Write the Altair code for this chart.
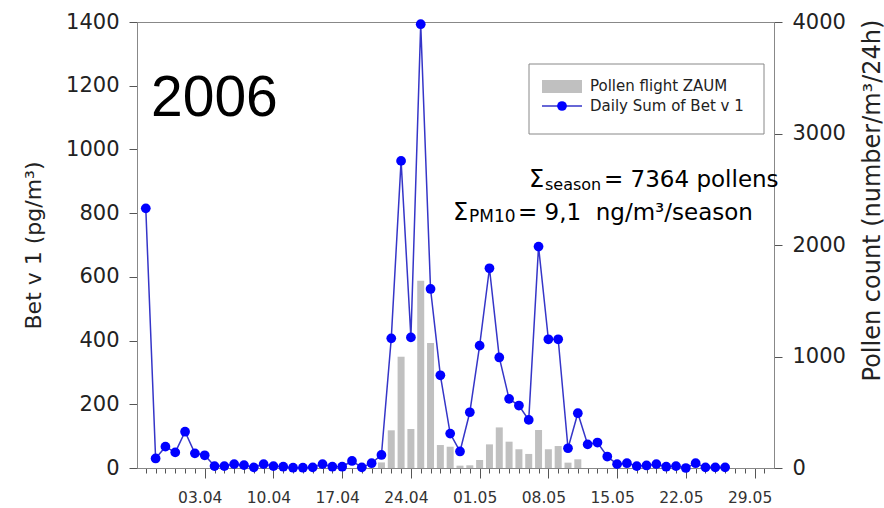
import altair as alt
import pandas as pd

# ---- data ----
line_start = "2006-03-28"
bet_v1 = [815, 30, 67, 49, 114, 46, 40, 6, 6, 12, 9, 2, 12, 6, 4, 1, 1, 2, 12, 4,
          4, 22, 2, 15, 41, 407, 964, 410, 1393, 562, 291, 108, 52, 175, 384, 627,
          347, 217, 196, 151, 695, 404, 404, 62, 172, 74, 80, 36, 12, 15, 6, 8, 12,
          4, 6, 0, 15, 2, 2, 2]

bar_start = "2006-04-21"
pollen = [50, 338, 998, 350, 1680, 1121, 206, 191, 21, 24, 72, 212, 364, 236,
          168, 126, 341, 168, 197, 48, 78]

left_ticks = [0, 200, 400, 600, 800, 1000, 1200, 1400]
right_ticks = [0, 1000, 2000, 3000, 4000]
tick_first = "2006-03-28"
tick_last = "2006-05-30"

line_dates = pd.date_range(line_start, periods=len(bet_v1), freq="D").strftime("%Y-%m-%d")
bar_dates = pd.date_range(bar_start, periods=len(pollen), freq="D").strftime("%Y-%m-%d")
line_df = pd.DataFrame({"date": line_dates, "bet": bet_v1})
bar_df = pd.DataFrame({"date": bar_dates, "pollen": pollen})

tick_days = pd.date_range(tick_first, tick_last, freq="D")
tick_vals = [alt.DateTime(year=d.year, month=d.month, date=d.day, utc=True) for d in tick_days]

W, H = 637, 446
FONT = "DejaVu Sans"

x_scale = alt.Scale(
    type="utc",
    domain=[alt.DateTime(year=2006, month=3, date=27, hours=14, minutes=44, utc=True),
            alt.DateTime(year=2006, month=5, date=30, hours=11, minutes=17, utc=True)],
)
x_axis = alt.Axis(
    values=tick_vals,
    labelExpr="utcday(datum.value) == 1 ? utcFormat(datum.value, '%d.%m') : ''",
    tickSize={"condition": {"test": "utcday(datum.value) == 1", "value": 10}, "value": 5},
    labelOverlap=False, labelFlush=False, labelBound=False,
    labelFont=FONT, labelFontSize=15.5, labelColor="#333", labelPadding=12, labelOffset=-5,
    tickColor="#555", domainColor="#888", grid=False, title=None,
)
x_enc = alt.X("date:T", scale=x_scale, axis=x_axis)

bars = alt.Chart(bar_df).mark_bar(color="#c0c0c0", size=7).encode(
    x=x_enc,
    y=alt.Y("pollen:Q", scale=alt.Scale(domain=[0, 4000], nice=False),
            axis=alt.Axis(orient="right", values=right_ticks, format="d",
                          title="Pollen count (number/m³/24h)",
                          titleFont=FONT, titleFontSize=24, titleFontWeight="normal",
                          titleColor="#222", titleAngle=270, titleAlign="center",
                          titleBaseline="middle", titleX=98, titleY=178,
                          labelFont=FONT, labelFontSize=21, labelColor="#222",
                          labelPadding=10, tickSize=8, tickColor="#555",
                          domainColor="#888", grid=False)),
)

y_left = alt.Y("bet:Q", scale=alt.Scale(domain=[0, 1400], nice=False),
               axis=alt.Axis(orient="left", values=left_ticks, format="d",
                             title="Bet v 1 (pg/m³)",
                             titleFont=FONT, titleFontSize=22, titleFontWeight="normal",
                             titleColor="#222", titleAngle=270, titleAlign="center",
                             titleBaseline="middle", titleX=-104, titleY=223,
                             labelFont=FONT, labelFontSize=21, labelColor="#222",
                             labelPadding=10, tickSize=8, tickColor="#555",
                             domainColor="#888", grid=False))

line = alt.Chart(line_df).mark_line(color="#3535c8", strokeWidth=1.5).encode(x=x_enc, y=y_left)
pts = alt.Chart(line_df).mark_point(filled=True, size=95, color="#0000ff", opacity=1).encode(x=x_enc, y=y_left)
line_layer = alt.layer(line, pts)


def label(text, x, y, size, font=FONT, color="#000", align="left", baseline="alphabetic"):
    return alt.Chart(pd.DataFrame({"t": [text]})).mark_text(
        text=text, font=font, fontSize=size, color=color, align=align, baseline=baseline
    ).encode(x=alt.value(x), y=alt.value(y))


one = pd.DataFrame({"k": [0]})
legend_box = alt.Chart(one).mark_rect(fill="white", stroke="#888", strokeWidth=1).encode(
    x=alt.value(392), x2=alt.value(627), y=alt.value(42), y2=alt.value(112))
legend_bar = alt.Chart(one).mark_rect(fill="#c0c0c0").encode(
    x=alt.value(405), x2=alt.value(445), y=alt.value(58), y2=alt.value(71))
legend_line = alt.Chart(one).mark_rule(color="#3535c8", strokeWidth=1.5).encode(
    x=alt.value(405), x2=alt.value(445), y=alt.value(84))
legend_dot = alt.Chart(one).mark_point(filled=True, size=95, color="#0000ff", opacity=1).encode(
    x=alt.value(425), y=alt.value(84))

annotations = [
    legend_box, legend_bar, legend_line, legend_dot,
    label("Pollen flight ZAUM", 453, 64, 15, color="#222", baseline="middle"),
    label("Daily Sum of Bet v 1", 453, 84, 15, color="#222", baseline="middle"),
    label("2006", 14, 94, 57, font="Liberation Sans", baseline="alphabetic"),
    label("Σ", 392, 165, 24),
    label("season", 408, 168, 16),
    label("= 7364 pollens", 467, 165, 23),
    label("Σ", 316, 198, 24),
    label("PM10", 332, 200, 17),
    label("= 9,1\u00a0 ng/m³/season", 381, 198, 23),
]

chart = alt.layer(bars, line_layer, *annotations).resolve_scale(y="independent").properties(
    width=W, height=H,
    autosize=alt.AutoSizeParams(type="none"),
    padding={"left": 137, "top": 22, "right": 110, "bottom": 40},
    background="white",
).configure_view(stroke="#888", strokeWidth=1)

chart.save("out.html", embed_options={"renderer": "svg", "actions": False})
